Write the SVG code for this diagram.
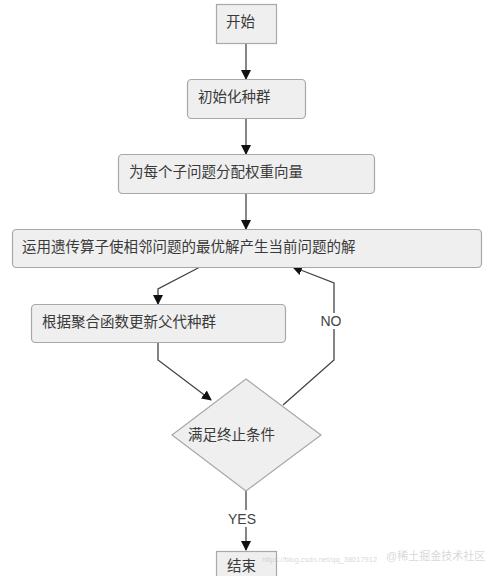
<svg xmlns="http://www.w3.org/2000/svg" width="489" height="576" viewBox="0 0 489 576">
<defs>
<style>
.box{fill:#efefef;stroke:#a8a8a8;stroke-width:1.2}
.t{font-family:"Noto Sans CJK SC","Liberation Sans",sans-serif;font-size:14.5px;fill:#3a3a3a}
.lbl{font-family:"Liberation Sans",sans-serif;font-size:14px;fill:#444}
.ln{fill:none;stroke:#444;stroke-width:1.3}
.wm{font-family:"Liberation Sans","Noto Sans CJK SC",sans-serif;fill:#bdbdbd;fill-opacity:0.6}
</style>
<marker id="ah" markerWidth="10" markerHeight="10" refX="9" refY="5" orient="auto" markerUnits="userSpaceOnUse">
<path d="M0,0 L10,5 L0,10 z" fill="#111"/>
</marker>
</defs>
<rect width="489" height="576" fill="#fff"/>
<g id="connectors">
<line class="ln" x1="246" y1="43" x2="246" y2="79" marker-end="url(#ah)"/>
<line class="ln" x1="246" y1="118" x2="246" y2="154" marker-end="url(#ah)"/>
<line class="ln" x1="246" y1="193" x2="246" y2="229" marker-end="url(#ah)"/>
<polyline class="ln" points="200,267 158,289 158,304" marker-end="url(#ah)"/>
<polyline class="ln" points="158,342 158,360 211,400" marker-end="url(#ah)"/>
<polyline class="ln" points="283,405 334,360 334,283 293,267" marker-end="url(#ah)"/>
<line class="ln" x1="246" y1="491" x2="246" y2="550" marker-end="url(#ah)"/>
<rect x="226" y="510" width="40" height="17" fill="#fff"/>
<text class="lbl" x="242" y="524" text-anchor="middle">YES</text>
<rect x="318" y="313" width="28" height="16" fill="#fff"/>
<text class="lbl" x="331" y="326" text-anchor="middle">NO</text>
</g>
<g id="start">
<rect class="box" x="216.5" y="4.5" width="60" height="39"/>
<text class="t" x="226" y="27">开始</text>
</g>
<g id="init">
<rect class="box" x="187.5" y="79.5" width="118" height="39" rx="4"/>
<text class="t" x="198" y="102">初始化种群</text>
</g>
<g id="weights">
<rect class="box" x="118.5" y="154.5" width="256" height="39" rx="4"/>
<text class="t" x="129" y="177">为每个子问题分配权重向量</text>
</g>
<g id="genetic">
<rect class="box" x="12.5" y="229.5" width="469" height="38" rx="4"/>
<text class="t" x="22" y="252">运用遗传算子使相邻问题的最优解产生当前问题的解</text>
</g>
<g id="update">
<rect class="box" x="31.5" y="304.5" width="254" height="38" rx="4"/>
<text class="t" x="42" y="327">根据聚合函数更新父代种群</text>
</g>
<g id="cond">
<polygon class="box" points="246,379 321,435 246,491 172,435"/>
<text class="t" x="188" y="440">满足终止条件</text>
</g>
<g id="end">
<rect class="box" x="216.5" y="551.5" width="60" height="30"/>
<text class="t" x="227" y="571">结束</text>
</g>
<text class="wm" x="262" y="562" font-size="7.5">https://blog.csdn.net/qq_38017912</text>
<text class="wm" x="386" y="560" font-size="11">@稀土掘金技术社区</text>
</svg>
